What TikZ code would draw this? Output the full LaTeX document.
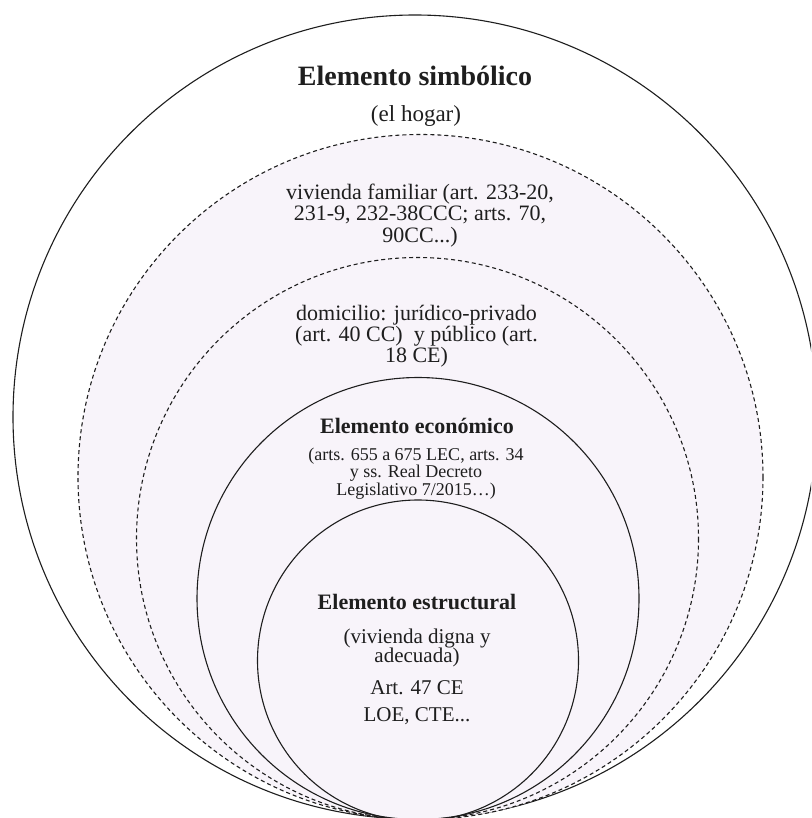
\documentclass[tikz,border=0pt]{standalone}
\usepackage{fontspec}
\setmainfont{Liberation Serif}
\definecolor{lav}{RGB}{248,244,250}
\definecolor{ink}{RGB}{30,30,30}
\tikzset{
  ring/.style={draw=ink, line width=1.1pt},
  dring/.style={draw=ink, line width=1.1pt, dash pattern=on 4pt off 3pt},
  txt/.style={anchor=base, inner sep=0pt, text=ink},
  tbig/.style={txt, font=\fontsize{28}{30}\selectfont\bfseries},
  thead/.style={txt, font=\fontsize{22}{24}\selectfont\bfseries},
  tbody/.style={txt, font=\fontsize{22}{24}\selectfont},
  tsmall/.style={txt, font=\fontsize{18}{20}\selectfont},
}
\begin{document}
\begin{tikzpicture}[x=1pt,y=-1pt]
\useasboundingbox (0,0) rectangle (811,818);
\clip (0,0) rectangle (811,818);
\fill[white] (0,0) rectangle (811,818);
% rings
\draw[ring] (415,417) circle[radius=402];
\draw[dring, fill=lav] (420.5,477) circle[radius=342.5];
\draw[dring] (417.5,538.5) circle[radius=281];
\draw[ring] (418,598.5) circle[radius=221];
\draw[ring] (418,660.5) circle[radius=160.5];
% outer ring texts
\node[tbig] (s1) at (415,86) {Elemento simbólico};
\node[tbody, font=\fontsize{23}{25}\selectfont] (s2) at (416,122) {(el hogar)};
% vivienda familiar
\node[tbody] (v1) at (420,200) {vivienda familiar (art. 233-20,};
\node[tbody] (v2) at (420,221) {231-9, 232-38CCC; arts. 70,};
\node[tbody] (v3) at (420,242) {90CC...)};
% domicilio
\node[tbody] (d1) at (416.5,320) {domicilio: jurídico-privado};
\node[tbody] (d2) at (416.5,341) {(art. 40 CC)\ \ y público (art.};
\node[tbody] (d3) at (416.5,362) {18 CE)};
% economico
\node[thead] (e0) at (417,433) {Elemento económico};
\node[tsmall] (e1) at (416,460) {(arts. 655 a 675 LEC, arts. 34};
\node[tsmall] (e2) at (416,477.5) {y ss. Real Decreto};
\node[tsmall] (e3) at (416,495) {Legislativo 7/2015…)};
% estructural
\node[thead] (r0) at (417,609) {Elemento estructural};
\node[tbody, font=\fontsize{21}{23}\selectfont] (r1) at (417,643) {(vivienda digna y};
\node[tbody, font=\fontsize{21}{23}\selectfont] (r2) at (417,662) {adecuada)};
\node[tbody, font=\fontsize{21}{23}\selectfont] (r3) at (417,694) {Art. 47 CE};
\node[tbody, font=\fontsize{21}{23}\selectfont] (r4) at (417,721) {LOE, CTE...};
\end{tikzpicture}
\end{document}
